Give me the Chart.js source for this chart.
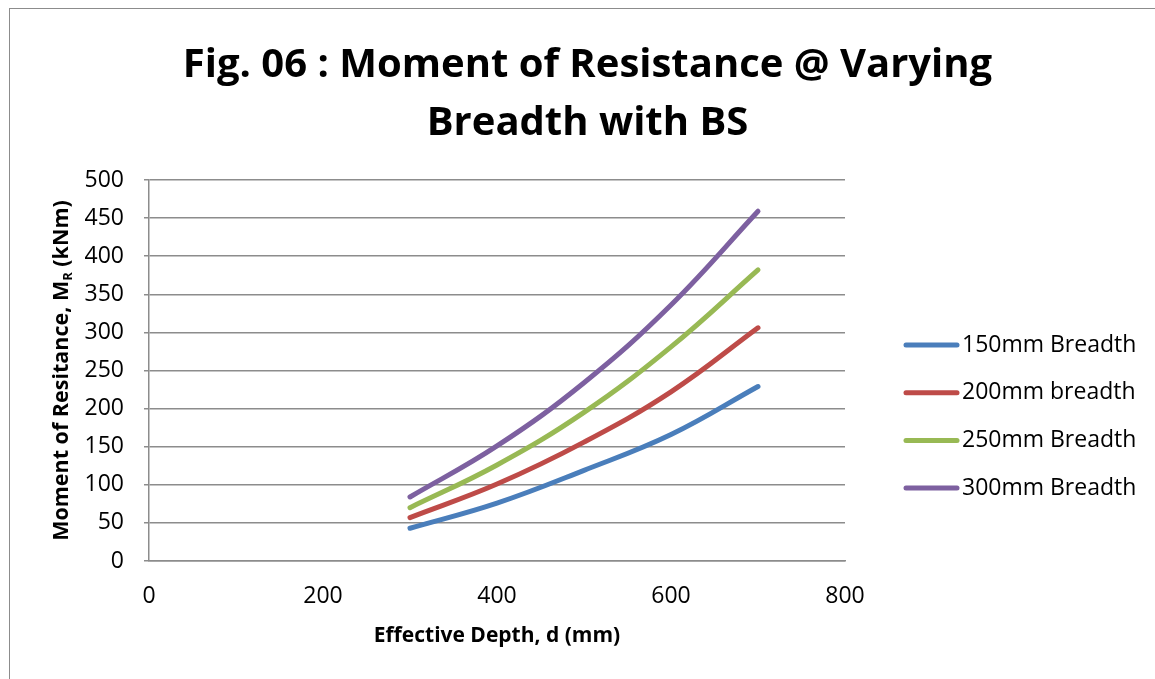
<!DOCTYPE html>
<html>
<head>
<meta charset="utf-8">
<script src="https://cdn.jsdelivr.net/npm/chart.js@4.4.1/dist/chart.umd.min.js"></script>
<style>
    html, body { margin: 0; padding: 0; background: #fff; }
    #wrap { position: relative; width: 1155px; height: 679px; overflow: hidden; }
    #frame { position: absolute; left: 9px; top: 8px; width: 1300px; height: 800px;
             border-left: 1.5px solid #8c8c8c; border-top: 1.5px solid #8c8c8c; }
    #title { position: absolute; left: 0; top: 33px; width: 1175px; text-align: center;
             font: bold 40px "Open Sans", sans-serif; line-height: 58px; color: #000; }
    canvas { position: absolute; left: 0; top: 0; }
</style>
</head>
<body>
<div id="wrap">
    <div id="frame"></div>
    <canvas id="mrChart" width="1155" height="679"></canvas>
    <div id="title">Fig. 06 : Moment of Resistance @ Varying<br>Breadth with BS</div>
</div>
<script>
// data
const depths = [300, 400, 500, 600, 700];
const mr150 = [43, 76, 119, 166, 229];
const mr200 = [57, 101, 156, 222, 306];
const mr250 = [70, 126, 195, 281, 382];
const mr300 = [84, 151, 234, 336, 459];

const seriesLabels = ["150mm Breadth", "200mm breadth", "250mm Breadth", "300mm Breadth"];
const seriesColors = ["#4a7ebb", "#be4b48", "#98b954", "#7d60a0"];

const xTicks = [0, 200, 400, 600, 800];
const yTicks = [0, 50, 100, 150, 200, 250, 300, 350, 400, 450, 500];

const xTitle = "Effective Depth, d (mm)";
const yTitleParts = [["Moment of Resitance, M", false], ["R", true], [" (kNm)", false]];

const toPoints = vals => vals.map((v, i) => ({ x: depths[i], y: v }));

const gridGrey = "#8c8c8c";

// y-axis title with subscript R
const yTitlePlugin = {
    id: "yTitle",
    afterDraw(chart) {
        const { ctx, chartArea } = chart;
        const big = 'bold 21.5px "Open Sans", sans-serif';
        const small = 'bold 13px "Open Sans", sans-serif';
        ctx.save();
        let total = 0;
        yTitleParts.forEach(([t, sub]) => { ctx.font = sub ? small : big; total += ctx.measureText(t).width; });
        ctx.translate(62, (chartArea.top + chartArea.bottom) / 2);
        ctx.rotate(-Math.PI / 2);
        ctx.fillStyle = "#000";
        ctx.textBaseline = "middle";
        let x = -total / 2;
        yTitleParts.forEach(([t, sub]) => {
            ctx.font = sub ? small : big;
            ctx.fillText(t, x, sub ? 6 : 0);
            x += ctx.measureText(t).width;
        });
        ctx.restore();
    }
};

// legend placed the way the spreadsheet put it
const sideLegend = {
    id: "sideLegend",
    afterDraw(chart) {
        const { ctx } = chart;
        ctx.save();
        chart.data.datasets.forEach((ds, i) => {
            const y = 345 + i * 47.7;
            ctx.strokeStyle = ds.borderColor;
            ctx.lineWidth = 5;
            ctx.lineCap = "round";
            ctx.beginPath();
            ctx.moveTo(906, y);
            ctx.lineTo(957, y);
            ctx.stroke();
            ctx.fillStyle = "#000";
            ctx.font = '23px "Open Sans", sans-serif';
            ctx.textBaseline = "middle";
            ctx.fillText(ds.label, 962, y);
        });
        ctx.restore();
    }
};

new Chart(document.getElementById("mrChart"), {
    type: "scatter",
    data: {
        datasets: [mr150, mr200, mr250, mr300].map((vals, i) => ({
            label: seriesLabels[i],
            data: toPoints(vals),
            showLine: true,
            borderColor: seriesColors[i],
            backgroundColor: seriesColors[i],
            borderWidth: 5,
            borderCapStyle: "round",
            borderJoinStyle: "round",
            pointRadius: 0,
            tension: 0.4,
        }))
    },
    options: {
        responsive: false,
        animation: false,
        devicePixelRatio: 1,
        layout: { padding: { left: 0, right: 310, top: 180, bottom: 0 } },
        plugins: { legend: { display: false }, tooltip: { enabled: false } },
        scales: {
            x: {
                type: "linear",
                min: 0,
                max: 800,
                afterBuildTicks: s => { s.ticks = xTicks.map(v => ({ value: v })); },
                afterFit: s => { s.height = 118; },
                grid: { display: false },
                border: { display: true, color: gridGrey, width: 1.5 },
                ticks: { color: "#000", font: { family: "Open Sans", size: 23 }, padding: 14, maxRotation: 0 },
                title: {
                    display: true,
                    text: xTitle,
                    color: "#000",
                    font: { family: "Open Sans", size: 21, weight: "bold" },
                    padding: { top: 0, bottom: 30 }
                }
            },
            y: {
                type: "linear",
                min: 0,
                max: 500,
                afterBuildTicks: s => { s.ticks = yTicks.map(v => ({ value: v })); },
                afterFit: s => { s.width = 149; },
                grid: { color: gridGrey, lineWidth: 1.5, tickLength: 5, tickColor: gridGrey },
                border: { display: true, color: gridGrey, width: 1.5 },
                ticks: { color: "#000", font: { family: "Open Sans", size: 23 }, padding: 20 }
            }
        }
    },
    plugins: [yTitlePlugin, sideLegend]
});
</script>
</body>
</html>
